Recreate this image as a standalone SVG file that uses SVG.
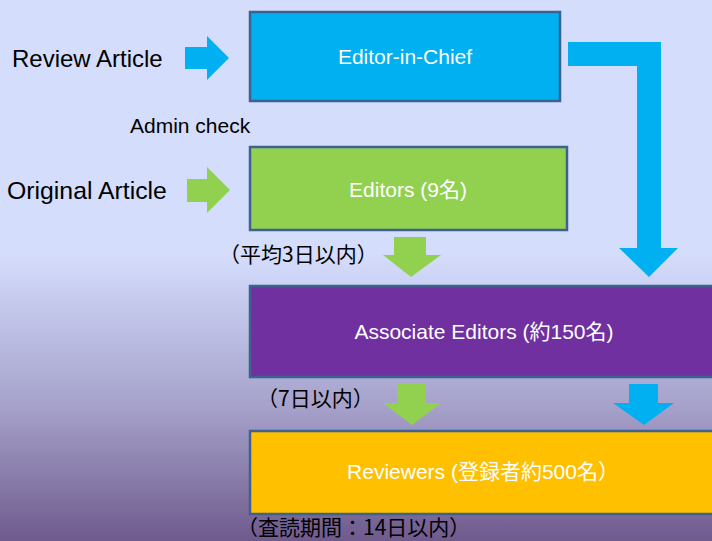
<svg xmlns="http://www.w3.org/2000/svg" width="712" height="541" viewBox="0 0 712 541">
<defs>
<linearGradient id="bg" x1="0" y1="0" x2="0" y2="1">
<stop offset="0" stop-color="#d5ddfc"/>
<stop offset="0.47" stop-color="#d5ddfc"/>
<stop offset="0.53" stop-color="#cad0f2"/>
<stop offset="0.75" stop-color="#a6a2cb"/>
<stop offset="1" stop-color="#6f5a8d"/>
</linearGradient>
<style>
.box{stroke:#3e6290;stroke-width:2.5}
.lbl{font-family:"Liberation Sans","Noto Sans CJK JP",sans-serif;fill:#000}
.in{font-family:"Liberation Sans","Noto Sans CJK JP",sans-serif;fill:#fff;font-size:21px;text-anchor:middle}
.jp{font-family:"Noto Sans CJK JP",sans-serif;fill:#000;font-size:21px}
.blue{fill:#00b0f0}
.green{fill:#92d050}
</style>
</defs>
<rect width="712" height="541" fill="url(#bg)"/>

<g id="connectors">
<polygon class="blue" points="185,47 207,47 207,36 229,58 207,80 207,69 185,69"/>
<polygon class="green" points="187,179 207,179 207,167 230,190 207,213 207,202 187,202"/>
<polygon class="blue" points="568,42 661,42 661,248 678,248 649,277 619,248 637,248 637,66 568,66"/>
<polygon class="green" points="394,237 426,237 426,255 441,255 411,277 383,255 394,255"/>
<polygon class="green" points="397,384 426,384 426,403 441,403 412,425 383,403 397,403"/>
<polygon class="blue" points="629,384 658,384 658,403 674,403 644,425 613,403 629,403"/>
</g>

<g id="review-article"><text class="lbl" x="12" y="67" font-size="24">Review Article</text></g>
<g id="original-article"><text class="lbl" x="7" y="199" font-size="24.8">Original Article</text></g>
<g id="admin-check"><text class="lbl" x="130" y="133" font-size="21">Admin check</text></g>

<g id="editor-in-chief">
<rect class="box" x="250" y="12" width="310" height="89" fill="#00b0f0"/>
<text class="in" x="405" y="64" font-size="22">Editor-in-Chief</text>
</g>
<g id="editors">
<rect class="box" x="250" y="147" width="317" height="83" fill="#92d050"/>
<text class="in" x="408" y="197">Editors (9名)</text>
</g>
<g id="associate-editors">
<rect class="box" x="250" y="286" width="470" height="91" fill="#7030a0"/>
<text class="in" x="484" y="339" font-size="21.5">Associate Editors (約150名)</text>
</g>
<g id="reviewers">
<rect class="box" x="250" y="431" width="470" height="83" fill="#ffc000"/>
<text class="in" x="483" y="479" font-size="21.5">Reviewers (登録者約500名）</text>
</g>

<g id="time-3"><text class="jp" x="219" y="262">（平均3日以内）</text></g>
<g id="time-7"><text class="jp" x="257" y="406">（7日以内）</text></g>
<g id="time-14"><text class="jp" x="237" y="535">（査読期間：14日以内）</text></g>
</svg>
